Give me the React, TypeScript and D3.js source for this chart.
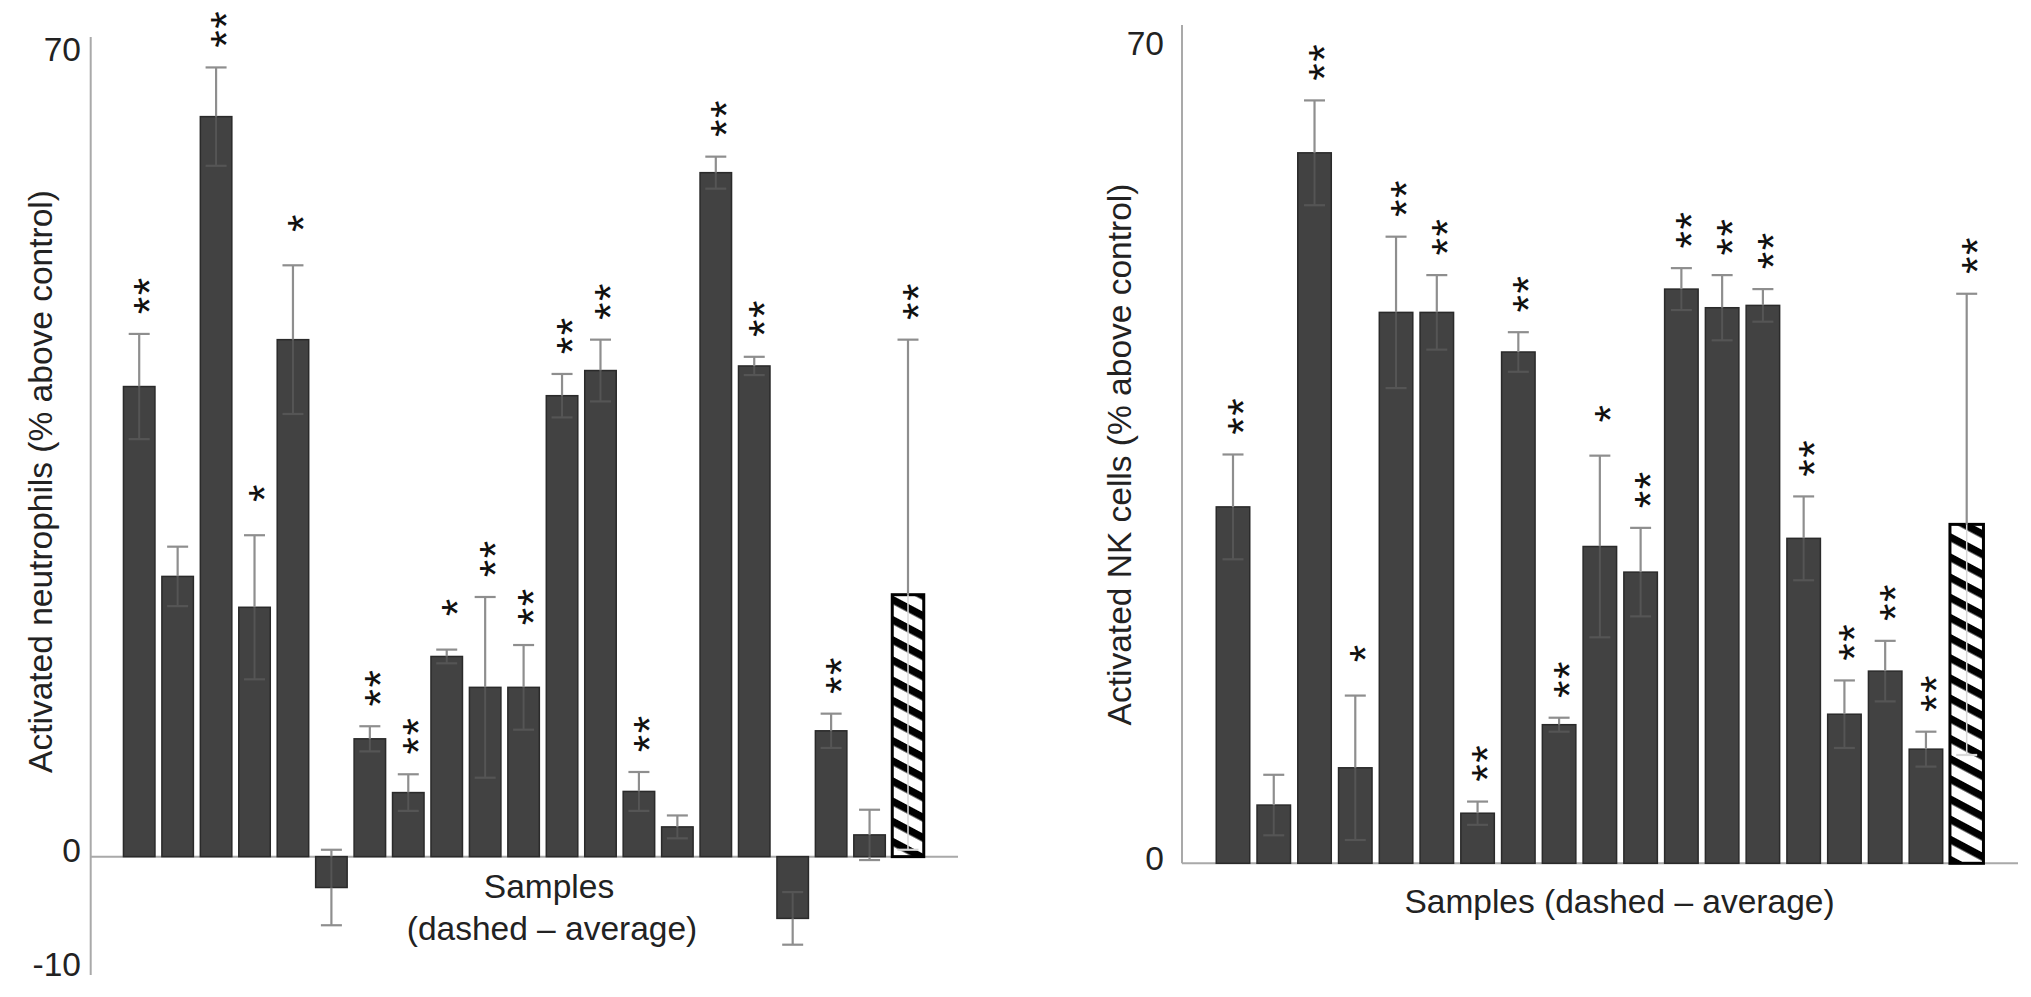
import * as React from 'react';
import * as d3 from 'd3';

// left panel: activated neutrophils, last bar = average (hatched)
const neutroValues = [41.1, 24.5, 64.7, 21.8, 45.2, -2.7, 10.3, 5.6, 17.5, 14.8, 14.8, 40.3, 42.5, 5.7, 2.6, 59.8, 42.9, -5.4, 11.0, 1.9, 22.9];
const neutroErrors = [4.6, 2.6, 4.3, 6.3, 6.5, 3.3, 1.1, 1.6, 0.6, 7.9, 3.7, 1.9, 2.7, 1.7, 1.0, 1.4, 0.8, 2.3, 1.5, 2.2, 22.3];
const neutroStars = ['**', '', '**', '*', '*', '', '**', '**', '*', '**', '**', '**', '**', '**', '', '**', '**', '', '**', '', '**'];
const neutroTicks = [70, 0, -10];

// right panel: activated NK cells, last bar = average (hatched)
const nkValues = [30.6, 5.0, 61.0, 8.2, 47.3, 47.3, 4.3, 43.9, 11.9, 27.2, 25.0, 49.3, 47.7, 47.9, 27.9, 12.8, 16.5, 9.8, 29.1];
const nkErrors = [4.5, 2.6, 4.5, 6.2, 6.5, 3.2, 1.0, 1.7, 0.6, 7.8, 3.8, 1.8, 2.8, 1.4, 3.6, 2.9, 2.6, 1.5, 19.8];
const nkStars = ['**', '', '**', '*', '**', '**', '**', '**', '**', '*', '**', '**', '**', '**', '**', '**', '**', '**', '**'];
const nkTicks = [70, 0];

const FONT = "'Liberation Sans', Arial, Helvetica, sans-serif";
const TEXT = '#222';
const BAR_FILL = '#424242';
const ERR = '#8e8e8e';
const ERR_IN = '#555555';     // error bar where it runs over a dark bar
const ERR_IN_HATCH = '#d8d8d8';
const AXIS = '#a9a9a9';
const FS = 33.5;

type PanelProps = {
  values: number[];
  errors: number[];
  stars: string[];
  x: d3.ScalePoint<number>;
  y: d3.ScaleLinear<number, number>;
  barW: number;
};

const Panel = ({ values, errors, stars, x, y, barW }: PanelProps) => {
  const last = values.length - 1;
  const y0 = y(0);
  return (
    <g>
      {values.map((v, i) => {
        const cx = x(i)!;
        const top = Math.min(y(v), y0);
        const h = Math.abs(y(v) - y0);
        if (i === last) {
          return (
            <rect key={'b' + i} x={cx - barW / 2} y={top} width={barW} height={h}
              fill="url(#hatch)" stroke="#000" strokeWidth={3} />
          );
        }
        return (
          <rect key={'b' + i} x={cx - barW / 2} y={top} width={barW} height={h}
            fill={BAR_FILL} stroke="#2a2a2a" strokeWidth={1.5} />
        );
      })}
      {values.map((v, i) => {
        const cx = x(i)!;
        const lo = v - errors[i];
        const hi = v + errors[i];
        const bMin = Math.min(v, 0);
        const bMax = Math.max(v, 0);
        const inMin = Math.max(lo, bMin);
        const inMax = Math.min(hi, bMax);
        const hatched = i === last;
        const inner = hatched ? ERR_IN_HATCH : ERR_IN;
        const capColor = (val: number) => (val > bMin && val < bMax ? inner : ERR);
        return (
          <g key={'e' + i} strokeWidth={2.2}>
            {hi > bMax && <line x1={cx} x2={cx} y1={y(bMax)} y2={y(hi)} stroke={ERR} />}
            {lo < bMin && <line x1={cx} x2={cx} y1={y(lo)} y2={y(bMin)} stroke={ERR} />}
            {inMax > inMin && (
              <line x1={cx} x2={cx} y1={y(inMin)} y2={y(inMax)} stroke={inner}
                strokeWidth={hatched ? 1.5 : 2} />
            )}
            <line x1={cx - 10.5} x2={cx + 10.5} y1={y(hi)} y2={y(hi)} stroke={capColor(hi)} />
            <line x1={cx - 10.5} x2={cx + 10.5} y1={y(lo)} y2={y(lo)} stroke={capColor(lo)} />
          </g>
        );
      })}
      {stars.map((s, i) => {
        if (!s) return null;
        const cx = x(i)!;
        const hi = y(values[i] + errors[i]);
        const mid = hi - (s.length === 1 ? 42 : 38);
        return s.split('').map((c, k) => {
          const cy = mid + (k - (s.length - 1) / 2) * 19;
          return (
            <text key={'s' + i + '-' + k} x={cx} y={cy + 0.575 * 45} fontSize={45}
              textAnchor="middle" fill="#111" fontFamily={FONT}
              transform={`rotate(-90,${cx},${cy})`}>{c}</text>
          );
        });
      })}
    </g>
  );
};

const App: React.FC = () => {
  // left chart scales
  const xL = d3.scalePoint<number>().domain(d3.range(neutroValues.length)).range([139.2, 908]);
  const yL = d3.scaleLinear().domain([-10, 70]).range([971, 56]);
  // right chart scales
  const xR = d3.scalePoint<number>().domain(d3.range(nkValues.length)).range([1233, 1966.7]);
  const yR = d3.scaleLinear().domain([0, 70]).range([863.3, 48]);

  return (
    <svg width={2031} height={997} style={{ position: 'absolute', left: 0, top: 0, background: '#fff' }}
      fontFamily={FONT}>
      <defs>
        <pattern id="hatch" patternUnits="userSpaceOnUse" width={12} height={17.8}
          patternTransform="rotate(28)">
          <rect x={0} y={0} width={12} height={17.8} fill="#fff" />
          <rect x={0} y={0} width={12} height={7.5} fill="#000" />
        </pattern>
      </defs>
      <rect x={0} y={0} width={2031} height={997} fill="#fff" />

      {/* ---------- left panel ---------- */}
      <line x1={90.7} x2={90.7} y1={37} y2={975} stroke={AXIS} strokeWidth={2} />
      <line x1={90.7} x2={958} y1={yL(0)} y2={yL(0)} stroke={AXIS} strokeWidth={2} />
      {neutroTicks.map(t => (
        <text key={t} x={81} y={yL(t) + 5} textAnchor="end" fontSize={FS} fill={TEXT}>{t}</text>
      ))}
      <Panel values={neutroValues} errors={neutroErrors} stars={neutroStars} x={xL} y={yL} barW={31.5} />
      <text transform="translate(52,481.5) rotate(-90)" textAnchor="middle" fontSize={FS} fill={TEXT}>
        Activated neutrophils (% above control)
      </text>
      <text x={549} y={898} textAnchor="middle" fontSize={FS} fill={TEXT}>Samples</text>
      <text x={552} y={940} textAnchor="middle" fontSize={FS} fill={TEXT}>(dashed – average)</text>

      {/* ---------- right panel ---------- */}
      <line x1={1182} x2={1182} y1={25} y2={yR(0)} stroke={AXIS} strokeWidth={2} />
      <line x1={1182} x2={2018} y1={yR(0)} y2={yR(0)} stroke={AXIS} strokeWidth={2} />
      {nkTicks.map(t => (
        <text key={t} x={1164} y={yR(t) + 6.5} textAnchor="end" fontSize={FS} fill={TEXT}>{t}</text>
      ))}
      <Panel values={nkValues} errors={nkErrors} stars={nkStars} x={xR} y={yR} barW={33.5} />
      <text transform="translate(1131,454.5) rotate(-90)" textAnchor="middle" fontSize={FS} fill={TEXT}>
        Activated NK cells (% above control)
      </text>
      <text x={1619.5} y={913} textAnchor="middle" fontSize={FS} fill={TEXT}>Samples (dashed – average)</text>
    </svg>
  );
};

export default App;
